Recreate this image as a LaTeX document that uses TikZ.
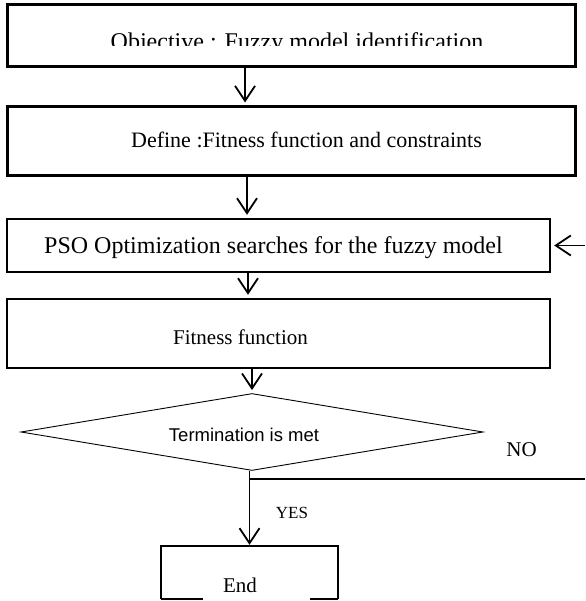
\documentclass[tikz,border=0pt]{standalone}
\usepackage{fontspec}
\setmainfont{Liberation Serif}
\newfontfamily\arialfont{Liberation Sans}
\usetikzlibrary{arrows.meta,shapes.geometric}
\tikzset{
  boxA/.style={draw, line width=3pt, rectangle, inner sep=0pt},
  boxB/.style={draw, line width=2.4pt, rectangle, inner sep=0pt},
  arr/.style={line width=1.8pt, -{Straight Barb[length=15pt,width=20pt,line width=1.8pt]}, shorten >=3pt},
  flow/.style={line width=1.8pt},
  txt/.style={inner sep=0pt, anchor=center},
}
\begin{document}
\begin{tikzpicture}[x=1pt,y=-1pt]
\useasboundingbox (0,0) rectangle (585,601);
% boxes
\node[boxA, minimum width=568pt, minimum height=62pt] (box1) at (291,36) {};
\node[boxA, minimum width=568pt, minimum height=69pt] (box2) at (291,141.5) {};
\node[boxB, minimum width=543pt, minimum height=53pt] (box3) at (278.5,245.5) {};
\node[boxB, minimum width=543pt, minimum height=69pt] (box4) at (278.5,333.5) {};
\node[diamond, draw, line width=0.9pt, minimum width=462pt, minimum height=77pt, inner sep=0pt] (d) at (252,432) {};
\node[minimum width=177pt, minimum height=52.5pt, inner sep=0pt] (end) at (249.5,572.25) {};
\draw[line width=2.4pt] (end.south west) -- (end.north west) -- (end.north east) -- (end.south east);
\draw[line width=2.4pt] (end.south west) -- ++(42,0);
\draw[line width=2.4pt] (end.south east) -- ++(-28,0);
% texts
\begin{scope}
\clip (0,0) rectangle (585,46);
\node[txt, anchor=base, font=\fontsize{24}{28}\selectfont] (t1) at (297,50) {Objective : Fuzzy model identification};
\end{scope}
\node[txt, font=\fontsize{22}{26}\selectfont] (t2) at (306.5,140) {Define :Fitness function and constraints};
\node[txt, font=\fontsize{24}{28}\selectfont] (t3) at (273.5,248) {PSO Optimization searches for the fuzzy model};
\node[txt, font=\fontsize{21}{25}\selectfont] (t4) at (240.5,337) {Fitness function};
\node[txt, font=\arialfont\fontsize{18.5}{22}\selectfont] (td) at (244,435) {Termination is met};
\node[txt, font=\fontsize{21}{25}\selectfont] (no) at (521.5,450) {NO};
\node[txt, font=\fontsize{17}{20}\selectfont] (yes) at (292,513) {YES};
\node[txt, font=\fontsize{21}{25}\selectfont] (te) at (240,585) {End};
% connectors
\draw[arr] ([xshift=-46pt]box1.south) -- ([xshift=-46pt]box2.north);
\draw[arr] ([xshift=-44pt]box2.south) -- ([xshift=-31.5pt]box3.north);
\draw[arr] ([xshift=-30.5pt]box3.south) -- ([xshift=-30.5pt]box4.north);
\draw[arr] (box4.south -| d.north) -- (d.north);
\draw[arr, shorten >=1pt] (d.south -| end.north) -- (end.north);
\coordinate (nofork) at (249.5,479);
\coordinate (noright) at (585,479);
\draw[flow] (nofork) -- (noright);
\coordinate (fbin) at (585,245.5);
\draw[arr] (fbin) -- (box3.east);
\end{tikzpicture}
\end{document}
